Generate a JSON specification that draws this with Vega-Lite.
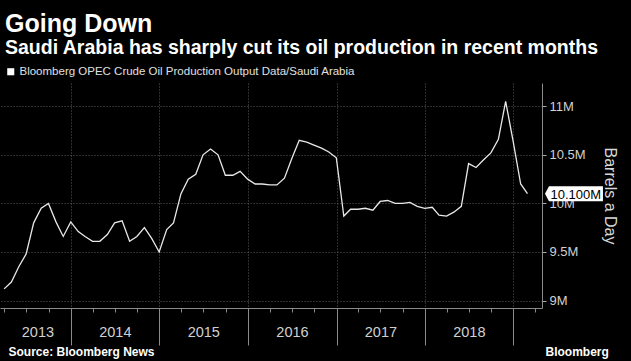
{
  "$schema": "https://vega.github.io/schema/vega-lite/v6.json",
  "width": 542,
  "height": 225,
  "autosize": {"type": "none"},
  "padding": {"left": 0, "top": 83, "right": 89, "bottom": 53},
  "background": "#000000",
  "config": {"view": {"stroke": null}, "font": "Liberation Sans"},
  "title": {
    "text": "Going Down",
    "subtitle": "Saudi Arabia has sharply cut its oil production in recent months",
    "anchor": "start",
    "frame": "group",
    "dx": 5,
    "color": "#ffffff",
    "fontSize": 25,
    "fontWeight": "bold",
    "font": "Liberation Sans",
    "subtitleColor": "#ffffff",
    "subtitleFontSize": 19.5,
    "subtitleFontWeight": "bold",
    "subtitleFont": "Liberation Sans",
    "subtitlePadding": 2,
    "offset": 9
  },
  "datasets": {
    "prod": [
      {"date": "2013-03-31", "value": 9.12},
      {"date": "2013-04-30", "value": 9.19},
      {"date": "2013-05-31", "value": 9.35},
      {"date": "2013-06-30", "value": 9.48},
      {"date": "2013-07-31", "value": 9.80},
      {"date": "2013-08-31", "value": 9.95},
      {"date": "2013-09-30", "value": 10.00},
      {"date": "2013-10-31", "value": 9.81},
      {"date": "2013-11-30", "value": 9.66},
      {"date": "2013-12-31", "value": 9.81},
      {"date": "2014-01-31", "value": 9.71},
      {"date": "2014-02-28", "value": 9.66},
      {"date": "2014-03-31", "value": 9.61},
      {"date": "2014-04-30", "value": 9.61},
      {"date": "2014-05-31", "value": 9.68},
      {"date": "2014-06-30", "value": 9.80},
      {"date": "2014-07-31", "value": 9.82},
      {"date": "2014-08-31", "value": 9.61},
      {"date": "2014-09-30", "value": 9.66},
      {"date": "2014-10-31", "value": 9.75},
      {"date": "2014-11-30", "value": 9.64},
      {"date": "2014-12-31", "value": 9.50},
      {"date": "2015-01-31", "value": 9.73},
      {"date": "2015-02-28", "value": 9.80},
      {"date": "2015-03-31", "value": 10.10},
      {"date": "2015-04-30", "value": 10.25},
      {"date": "2015-05-31", "value": 10.30},
      {"date": "2015-06-30", "value": 10.50},
      {"date": "2015-07-31", "value": 10.56},
      {"date": "2015-08-31", "value": 10.50},
      {"date": "2015-09-30", "value": 10.29},
      {"date": "2015-10-31", "value": 10.29},
      {"date": "2015-11-30", "value": 10.33},
      {"date": "2015-12-31", "value": 10.25},
      {"date": "2016-01-31", "value": 10.20},
      {"date": "2016-02-29", "value": 10.20},
      {"date": "2016-03-31", "value": 10.19},
      {"date": "2016-04-30", "value": 10.19},
      {"date": "2016-05-31", "value": 10.26},
      {"date": "2016-06-30", "value": 10.46},
      {"date": "2016-07-31", "value": 10.65},
      {"date": "2016-08-31", "value": 10.63},
      {"date": "2016-09-30", "value": 10.60},
      {"date": "2016-10-31", "value": 10.57},
      {"date": "2016-11-30", "value": 10.53},
      {"date": "2016-12-31", "value": 10.47},
      {"date": "2017-01-31", "value": 9.87},
      {"date": "2017-02-28", "value": 9.94},
      {"date": "2017-03-31", "value": 9.94},
      {"date": "2017-04-30", "value": 9.95},
      {"date": "2017-05-31", "value": 9.93},
      {"date": "2017-06-30", "value": 10.02},
      {"date": "2017-07-31", "value": 10.03},
      {"date": "2017-08-31", "value": 10.00},
      {"date": "2017-09-30", "value": 10.00},
      {"date": "2017-10-31", "value": 10.01},
      {"date": "2017-11-30", "value": 9.97},
      {"date": "2017-12-31", "value": 9.95},
      {"date": "2018-01-31", "value": 9.96},
      {"date": "2018-02-28", "value": 9.88},
      {"date": "2018-03-31", "value": 9.87},
      {"date": "2018-04-30", "value": 9.91},
      {"date": "2018-05-31", "value": 9.97},
      {"date": "2018-06-30", "value": 10.41},
      {"date": "2018-07-31", "value": 10.37},
      {"date": "2018-08-31", "value": 10.45},
      {"date": "2018-09-30", "value": 10.52},
      {"date": "2018-10-31", "value": 10.66},
      {"date": "2018-11-30", "value": 11.05},
      {"date": "2018-12-31", "value": 10.64},
      {"date": "2019-01-31", "value": 10.20},
      {"date": "2019-02-28", "value": 10.10}
    ],
    "last": [
      {"date": "2019-02-28", "value": 10.10}
    ]
  },
  "resolve": {"axis": {"x": "independent"}},
  "layer": [
    {
      "data": {"name": "prod"},
      "mark": {"type": "line", "color": "#e8e8e8", "strokeWidth": 1.3},
      "encoding": {
        "x": {
          "field": "date",
          "type": "temporal",
          "scale": {"domain": [{"year": 2013, "month": 3, "date": 14}, {"year": 2019, "month": 4, "date": 29}]},
          "axis": {
            "orient": "bottom",
            "values": [
              {"year": 2013, "month": 4, "date": 1}, {"year": 2013, "month": 7, "date": 1}, {"year": 2013, "month": 10, "date": 1},
              {"year": 2014, "month": 1, "date": 1}, {"year": 2014, "month": 4, "date": 1}, {"year": 2014, "month": 7, "date": 1}, {"year": 2014, "month": 10, "date": 1},
              {"year": 2015, "month": 1, "date": 1}, {"year": 2015, "month": 4, "date": 1}, {"year": 2015, "month": 7, "date": 1}, {"year": 2015, "month": 10, "date": 1},
              {"year": 2016, "month": 1, "date": 1}, {"year": 2016, "month": 4, "date": 1}, {"year": 2016, "month": 7, "date": 1}, {"year": 2016, "month": 10, "date": 1},
              {"year": 2017, "month": 1, "date": 1}, {"year": 2017, "month": 4, "date": 1}, {"year": 2017, "month": 7, "date": 1}, {"year": 2017, "month": 10, "date": 1},
              {"year": 2018, "month": 1, "date": 1}, {"year": 2018, "month": 4, "date": 1}, {"year": 2018, "month": 7, "date": 1}, {"year": 2018, "month": 10, "date": 1},
              {"year": 2019, "month": 1, "date": 1}, {"year": 2019, "month": 4, "date": 1}
            ],
            "labelExpr": "month(datum.value) === 6 && year(datum.value) < 2019 ? timeFormat(datum.value, '%Y') : ''",
            "labelOffset": {"condition": {"test": "year(datum.value) === 2013", "value": 11}, "value": 0},
            "labelPadding": 13,
            "labelFontSize": 14.5,
            "labelColor": "#d0d0d0",
            "labelFlush": false,
            "labelOverlap": false,
            "labelBound": false,
            "tickSize": {"condition": {"test": "month(datum.value) === 0", "value": 37}, "value": 4},
            "tickColor": "#8a8a8a",
            "domainColor": "#8a8a8a",
            "grid": true,
            "gridColor": "#5a5a5a",
            "gridDash": [1, 2],
            "gridOpacity": {"condition": {"test": "month(datum.value) === 0", "value": 1}, "value": 0},
            "title": "Source: Bloomberg News",
            "titleAnchor": "start",
            "titleAlign": "left",
            "titleBaseline": "alphabetic",
            "titleX": 8,
            "titleY": 47,
            "titleFontSize": 12,
            "titleFontWeight": "bold",
            "titleColor": "#ffffff"
          }
        },
        "y": {
          "field": "value",
          "type": "quantitative",
          "scale": {"domain": [8.923, 11.24], "nice": false, "zero": false},
          "axis": {
            "orient": "right",
            "values": [9, 9.25, 9.5, 9.75, 10, 10.25, 10.5, 10.75, 11],
            "labelExpr": "datum.value % 0.5 === 0 ? datum.value + 'M' : ''",
            "labelFontSize": 13,
            "labelColor": "#d0d0d0",
            "labelPadding": 3,
            "tickSize": 4,
            "tickColor": "#aaaaaa",
            "domainColor": "#8a8a8a",
            "grid": true,
            "gridColor": "#5a5a5a",
            "gridDash": [1, 2],
            "gridOpacity": {"condition": {"test": "datum.value % 0.5 === 0", "value": 1}, "value": 0},
            "title": "Barrels a Day",
            "titleAngle": 90,
            "titleFontSize": 16,
            "titleFontWeight": "normal",
            "titleColor": "#d8d8d8",
            "titlePadding": 16
          }
        },
        "color": {
          "datum": "Bloomberg OPEC Crude Oil Production Output Data/Saudi Arabia",
          "scale": {"range": ["#e8e8e8"]},
          "legend": {
            "orient": "none",
            "legendX": 5,
            "legendY": -17,
            "title": null,
            "symbolType": "square",
            "symbolSize": 50,
            "labelFontSize": 11.5,
            "labelColor": "#e0e0e0",
            "labelLimit": 0,
            "labelOffset": 3,
            "encode": {"symbols": {"update": {"fill": {"value": "#ffffff"}, "strokeWidth": {"value": 0}}}}
          }
        }
      }
    },
    {
      "data": {"name": "last"},
      "mark": {"type": "point", "shape": "M 1.75 0 L 2.15 -0.75 L 7.55 -0.75 L 7.55 0.75 L 2.15 0.75 Z", "filled": true, "fill": "#ffffff", "opacity": 1, "size": 400, "strokeWidth": 0},
      "encoding": {
        "x": {
          "field": "date",
          "type": "temporal",
          "axis": {
            "orient": "bottom",
            "domain": false,
            "ticks": false,
            "labels": false,
            "grid": false,
            "title": "Bloomberg",
            "titleAnchor": "start",
            "titleAlign": "left",
            "titleBaseline": "alphabetic",
            "titleX": 545,
            "titleY": 47,
            "titleFontSize": 12,
            "titleFontWeight": "bold",
            "titleColor": "#ffffff"
          }
        },
        "y": {"field": "value", "type": "quantitative"}
      }
    },
    {
      "data": {"name": "last"},
      "transform": [{"calculate": "format(datum.value, '.3f') + 'M'", "as": "label"}],
      "mark": {"type": "text", "align": "left", "baseline": "middle", "dx": 23, "dy": 1, "fontSize": 13, "color": "#000000"},
      "encoding": {
        "x": {"field": "date", "type": "temporal", "axis": null},
        "y": {"field": "value", "type": "quantitative"},
        "text": {"field": "label"}
      }
    }
  ]
}
